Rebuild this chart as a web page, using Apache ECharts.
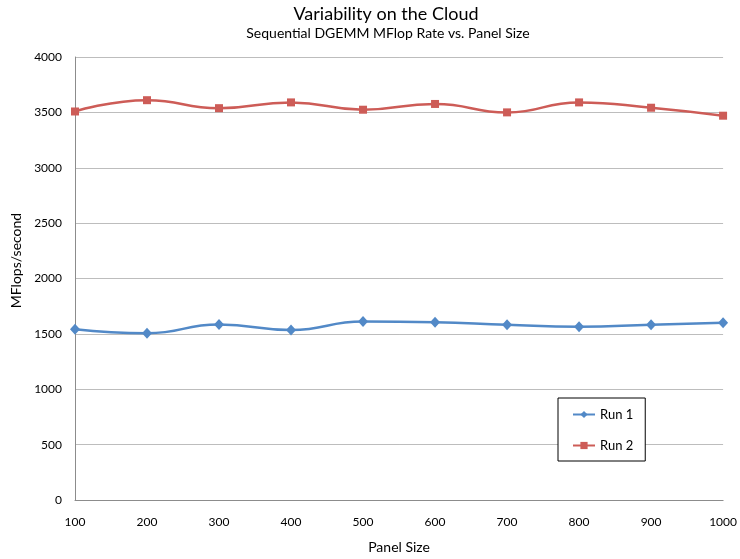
<!DOCTYPE html>
<html>
<head>
<meta charset="utf-8">
<script src="https://cdn.jsdelivr.net/npm/echarts@6/dist/echarts.min.js"></script>
<style>
  html, body { margin: 0; padding: 0; background: #fff; }
  #chart { width: 740px; height: 559px; }
</style>
</head>
<body>
<div id="chart"></div>
<script>
// Panel sizes tested (x axis)
const panelSizes = [100, 200, 300, 400, 500, 600, 700, 800, 900, 1000];
// Sequential DGEMM rate in MFlops/second for each run
const run1 = [1542, 1506, 1584, 1536, 1612, 1606, 1582, 1565, 1582, 1600];
const run2 = [3508, 3610, 3538, 3590, 3524, 3576, 3500, 3590, 3542, 3470];

const FONT = 'Lato, "Open Sans", sans-serif';

const pairs = (vals) => panelSizes.map((x, i) => [x, vals[i]]);
const plain = (v) => String(v);

const chart = echarts.init(document.getElementById('chart'), null, { renderer: 'canvas' });

chart.setOption({
  backgroundColor: '#ffffff',
  animation: false,
  title: [
    {
      text: 'Variability on the Cloud',
      left: 381, top: 0, textAlign: 'center',
      textStyle: { fontFamily: FONT, fontSize: 18, fontWeight: 'normal', color: '#000' }
    },
    {
      text: 'Sequential DGEMM MFlop Rate vs. Panel Size',
      left: 383, top: 21, textAlign: 'center',
      textStyle: { fontFamily: FONT, fontSize: 14, fontWeight: 'normal', color: '#000' }
    }
  ],
  legend: {
    orient: 'vertical',
    left: 558, top: 398,
    padding: [10, 12, 9, 14],
    itemWidth: 22, itemHeight: 9, itemGap: 18,
    borderColor: '#000', borderWidth: 1,
    backgroundColor: '#fff',
    textStyle: { fontFamily: FONT, fontSize: 13, color: '#000' },
    data: ['Run 1', 'Run 2']
  },
  grid: { left: 75, right: 15, top: 57, bottom: 59, containLabel: false },
  xAxis: {
    type: 'value',
    min: 100, max: 1000, interval: 100,
    name: 'Panel Size',
    nameLocation: 'middle',
    nameGap: 40,
    nameTextStyle: { fontFamily: FONT, fontSize: 14, color: '#000' },
    axisLine: { show: true, lineStyle: { color: '#8c8c8c', width: 1 } },
    axisTick: { show: false },
    splitLine: { show: false },
    axisLabel: { fontFamily: FONT, fontSize: 12, color: '#000', margin: 16, formatter: plain }
  },
  yAxis: {
    type: 'value',
    min: 0, max: 4000, interval: 500,
    name: 'MFlops/second',
    nameLocation: 'middle',
    nameGap: 50,
    nameTextStyle: { fontFamily: FONT, fontSize: 14, color: '#000', padding: [0, 0, 0, 36] },
    axisLine: { show: true, lineStyle: { color: '#8c8c8c', width: 1 } },
    axisTick: { show: false },
    splitLine: { show: true, lineStyle: { color: '#bdbdbd', width: 1 } },
    axisLabel: { fontFamily: FONT, fontSize: 12, color: '#000', margin: 13, formatter: plain }
  },
  series: [
    {
      name: 'Run 1',
      type: 'line',
      data: pairs(run1),
      smooth: 0.5,
      symbol: 'diamond',
      symbolSize: [10, 11],
      lineStyle: { color: '#5289c7', width: 2.5 },
      itemStyle: { color: '#5289c7' },
      z: 3
    },
    {
      name: 'Run 2',
      type: 'line',
      data: pairs(run2),
      smooth: 0.5,
      symbol: 'rect',
      symbolSize: 8,
      lineStyle: { color: '#cd5c57', width: 2.5 },
      itemStyle: { color: '#cd5c57' },
      z: 3
    }
  ]
});
</script>
</body>
</html>
